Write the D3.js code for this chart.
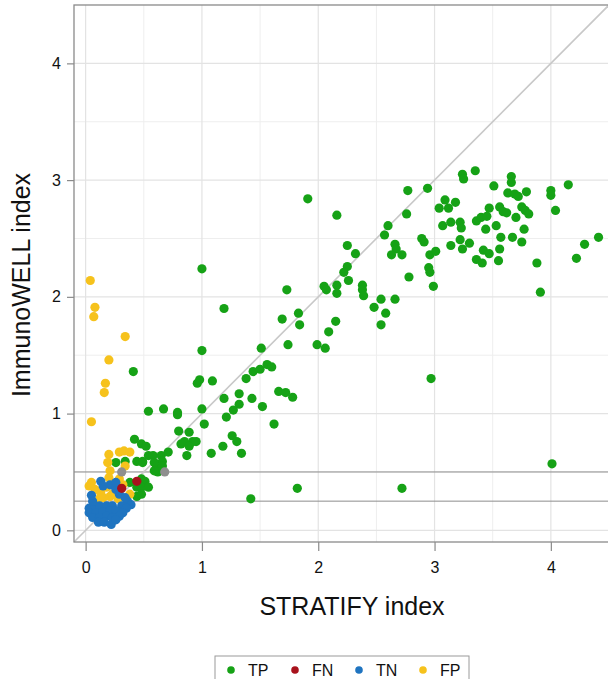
<!DOCTYPE html>
<html><head><meta charset="utf-8">
<script src="https://cdn.jsdelivr.net/npm/d3@7"></script>
<style>body{margin:0;background:#fff;}svg{display:block;font-family:"Liberation Sans",Arial,sans-serif;}</style>
</head><body>
<svg id="chart" width="608" height="679"></svg>
<script>
// ---- data ----
const tpPoints = [
[3.24,3.05],[3.25,3.01],[3.35,3.08],[2.77,2.91],[2.94,2.93],[3.51,2.95],[3.66,3.03],[3.66,2.98],[3.63,2.89],[3.69,2.88],[3.72,2.86],[3.79,2.90],[4.0,2.91],[4.0,2.87],[4.15,2.96],[2.76,2.71],[2.60,2.61],[2.57,2.53],[3.09,2.83],[3.04,2.76],[3.12,2.76],[3.18,2.81],[3.47,2.76],[3.56,2.77],[3.59,2.73],[3.62,2.72],[3.75,2.77],[3.78,2.74],[3.81,2.71],[4.04,2.74],[3.70,2.68],[3.36,2.65],[3.40,2.68],[3.45,2.69],[3.14,2.64],[3.07,2.61],[3.22,2.64],[3.23,2.59],[3.44,2.58],[3.53,2.61],[3.77,2.58],[2.89,2.50],[2.91,2.47],[3.22,2.49],[3.30,2.46],[3.24,2.41],[3.14,2.44],[3.57,2.51],[3.67,2.51],[3.75,2.47],[3.56,2.41],[3.42,2.40],[3.47,2.37],[3.36,2.32],[3.41,2.29],[3.55,2.31],[2.66,2.45],[2.67,2.41],[2.63,2.36],[2.72,2.36],[2.96,2.36],[3.01,2.39],[2.95,2.25],[2.96,2.21],[2.78,2.17],[2.99,2.09],[3.88,2.29],[3.91,2.04],[4.22,2.33],[4.29,2.45],[4.41,2.51],[2.54,1.98],[2.66,1.98],
[1.91,2.84],[2.16,2.70],[2.25,2.44],[2.32,2.37],[2.25,2.26],[2.22,2.21],[2.26,2.14],[1.73,2.06],[2.05,2.09],[2.07,2.06],[2.16,2.10],[2.16,2.03],[2.38,2.10],[2.38,2.06],[2.39,2.01],[2.48,1.91],[2.58,1.86],[2.54,1.76],[1.83,1.86],[1.69,1.81],[1.84,1.76],[2.15,1.79],[2.09,1.70],[1.51,1.56],[1.74,1.59],[1.99,1.59],[2.06,1.56],
[1.0,2.24],[1.19,1.90],[2.72,0.36],[4.01,0.57],[2.97,1.30],
[1.0,1.54],[0.41,1.36],[0.98,1.29],[0.96,1.26],[1.09,1.28],[1.38,1.30],[1.44,1.36],[1.50,1.38],[1.56,1.42],[1.60,1.40],[1.66,1.19],[1.72,1.18],[1.78,1.14],[1.32,1.17],[1.43,1.13],[1.19,1.13],[1.52,1.06],[1.0,1.04],[0.54,1.02],[0.67,1.04],[0.79,1.01],[0.79,0.99],[1.27,1.03],[1.32,1.08],[1.21,0.97],[1.02,0.91],[1.62,0.91],[0.80,0.85],[0.89,0.84],[0.92,0.76],[0.95,0.76],[0.85,0.76],[0.89,0.72],[0.82,0.74],[1.26,0.81],[1.30,0.76],[1.18,0.72],[1.08,0.66],[1.34,0.66],[0.87,0.64],[0.42,0.78],[0.48,0.74],[0.52,0.72],[0.54,0.64],[0.58,0.64],[0.49,0.59],[0.65,0.64],[0.66,0.59],[0.71,0.67],[0.61,0.54],[0.62,0.50],[0.59,0.51],[1.82,0.36],[1.42,0.27],
[0.26,0.58],[0.34,0.59],[0.44,0.59],[0.49,0.58],[0.59,0.58],[0.66,0.55],[0.44,0.37],[0.48,0.44],[0.51,0.42],[0.48,0.37],[0.54,0.37],[0.44,0.29],[0.48,0.31],[0.38,0.41]
];
const tnPoints = [
[0.13,0.42],[0.21,0.39],[0.26,0.35],[0.29,0.31],[0.34,0.28],[0.36,0.25],[0.39,0.22],[0.03,0.19],[0.08,0.21],[0.12,0.21],[0.18,0.21],[0.23,0.21],[0.31,0.21],[0.35,0.19],[0.03,0.15],[0.09,0.15],[0.15,0.16],[0.21,0.17],[0.26,0.17],[0.32,0.15],[0.06,0.11],[0.12,0.11],[0.18,0.12],[0.23,0.11],[0.29,0.12],[0.11,0.07],[0.16,0.07],[0.22,0.05],[0.26,0.09],[0.06,0.25],[0.15,0.38],[0.26,0.41],[0.05,0.30]
];
const fpPoints = [
[0.04,2.14],[0.08,1.91],[0.07,1.83],[0.34,1.66],[0.20,1.46],[0.17,1.26],[0.16,1.18],[0.05,0.93],
[0.20,0.65],[0.29,0.67],[0.33,0.68],[0.38,0.67],[0.19,0.58],[0.34,0.55],[0.21,0.51],[0.20,0.45],[0.05,0.41],[0.03,0.38],[0.08,0.35],[0.13,0.32],[0.15,0.28],[0.21,0.29],[0.23,0.31],[0.18,0.37],[0.29,0.44],[0.32,0.39],[0.38,0.31],[0.28,0.27],[0.12,0.27]
];
const fnPoints = [[0.44,0.42],[0.31,0.36]];
const otherPoints = [[0.31,0.50],[0.68,0.50]];
const thresholds = [0.25, 0.5];
const tickValues = [0, 1, 2, 3, 4];
const legendLabels = ["TP", "FN", "TN", "FP"];
const classColors = {TP:"#16a216", FN:"#a8121c", TN:"#1f74c0", FP:"#f6c21c", other:"#8f8f8f"};

// ---- layout ----
const svg = d3.select("#chart");
const pL = 74, pR = 609, pT = 5, pB = 542;
const x = d3.scaleLinear().domain([-0.1, 4.5]).range([pL, pR]);
const y = d3.scaleLinear().domain([-0.1, 4.5]).range([pB, pT]);

// grid
const minor = d3.range(0.5, 4.5, 1);
const g = svg.append("g");
g.selectAll(".vmin").data(minor).join("line")
  .attr("x1", d => x(d)).attr("x2", d => x(d)).attr("y1", pT).attr("y2", pB)
  .attr("stroke", "#eeeeee").attr("stroke-width", 1);
g.selectAll(".hmin").data(minor).join("line")
  .attr("y1", d => y(d)).attr("y2", d => y(d)).attr("x1", pL).attr("x2", pR)
  .attr("stroke", "#eeeeee").attr("stroke-width", 1);
g.selectAll(".vmaj").data(tickValues).join("line")
  .attr("x1", d => x(d)).attr("x2", d => x(d)).attr("y1", pT).attr("y2", pB)
  .attr("stroke", "#e3e3e3").attr("stroke-width", 1.2);
g.selectAll(".hmaj").data(tickValues).join("line")
  .attr("y1", d => y(d)).attr("y2", d => y(d)).attr("x1", pL).attr("x2", pR)
  .attr("stroke", "#e3e3e3").attr("stroke-width", 1.2);

// threshold lines
svg.selectAll(".thr").data(thresholds).join("line")
  .attr("x1", pL).attr("x2", pR).attr("y1", d => y(d)).attr("y2", d => y(d))
  .attr("stroke", "#8c8c8c").attr("stroke-width", 1);

// diagonal y = x
svg.append("line")
  .attr("x1", x(-0.1)).attr("y1", y(-0.1)).attr("x2", x(4.5)).attr("y2", y(4.5))
  .attr("stroke", "#c8c8c8").attr("stroke-width", 1.6);

// points
const rad = 4.6;
function drawPts(arr, col) {
  svg.append("g").selectAll("circle").data(arr).join("circle")
    .attr("cx", d => x(d[0])).attr("cy", d => y(d[1])).attr("r", rad)
    .attr("fill", col);
}
drawPts(tpPoints, classColors.TP);
drawPts(fpPoints, classColors.FP);
drawPts(tnPoints, classColors.TN);
drawPts(fnPoints, classColors.FN);
drawPts(otherPoints, classColors.other);

// panel border
svg.append("rect").attr("x", pL).attr("y", pT).attr("width", pR - pL).attr("height", pB - pT)
  .attr("fill", "none").attr("stroke", "#8a8a8a").attr("stroke-width", 1.3);

// axes
const xAxis = svg.append("g").attr("transform", `translate(0,${pB})`)
  .call(d3.axisBottom(x).tickValues(tickValues).tickSize(9).tickPadding(11).tickFormat(d3.format("d")));
const yAxis = svg.append("g").attr("transform", `translate(${pL},0)`)
  .call(d3.axisLeft(y).tickValues(tickValues).tickSize(7).tickPadding(6).tickFormat(d3.format("d")));
[xAxis, yAxis].forEach(a => {
  a.select(".domain").remove();
  a.selectAll(".tick line").attr("stroke", "#8a8a8a").attr("stroke-width", 1.2);
  a.selectAll(".tick text").attr("fill", "#111").style("font-size", "16px")
    .style("font-family", '"Liberation Sans",Arial,sans-serif');
});

// axis titles
svg.append("text").attr("x", 352).attr("y", 615).attr("text-anchor", "middle")
  .style("font-size", "25px").attr("fill", "#111").text("STRATIFY index");
svg.append("text").attr("transform", "translate(30,285) rotate(-90)").attr("text-anchor", "middle")
  .style("font-size", "25px").attr("fill", "#111").text("ImmunoWELL index");

// legend
const lg = svg.append("g");
lg.append("rect").attr("x", 215).attr("y", 656).attr("width", 254).attr("height", 30)
  .attr("fill", "#fff").attr("stroke", "#9a9a9a").attr("stroke-width", 1);
const legX = d3.scalePoint().domain(legendLabels).range([231, 423]);
const items = lg.selectAll(".it").data(legendLabels).join("g")
  .attr("transform", d => `translate(${legX(d)},670)`);
items.append("circle").attr("r", 3.8).attr("fill", d => classColors[d]);
items.append("text").attr("x", 17).attr("dy", "0.36em").style("font-size", "16px")
  .attr("fill", "#111").text(d => d);
</script>
</body></html>
